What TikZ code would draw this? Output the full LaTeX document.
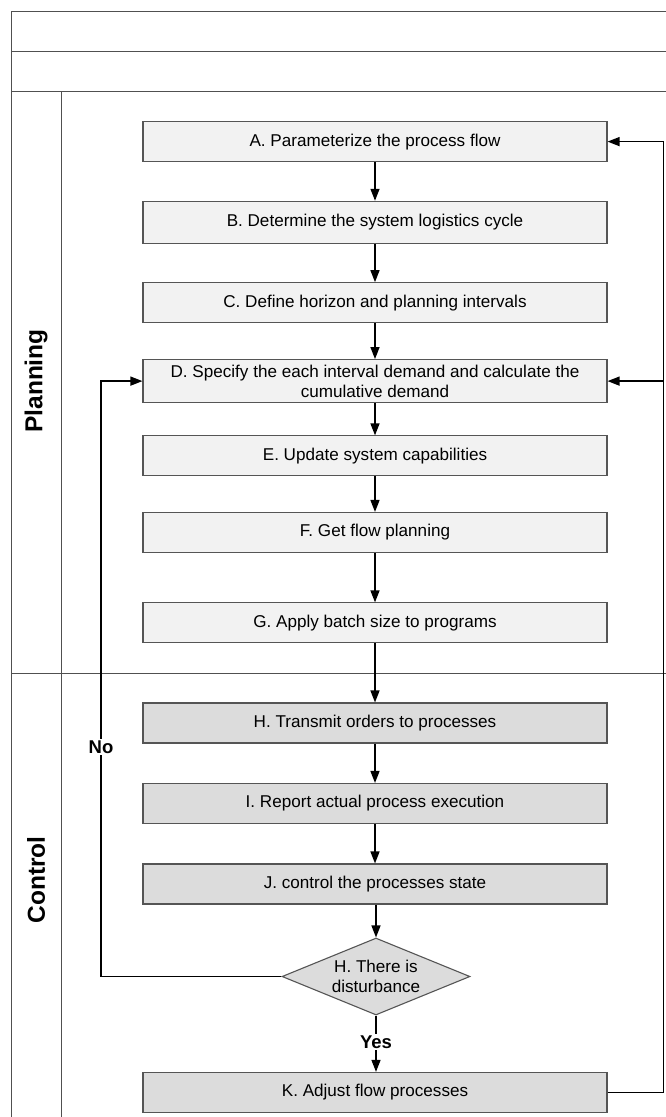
\documentclass[tikz,border=0pt]{standalone}
\usepackage{fontspec}
\setmainfont{Liberation Sans}
\usetikzlibrary{arrows.meta,shapes.geometric}
\definecolor{planfill}{HTML}{F2F2F2}
\definecolor{ctrlfill}{HTML}{DCDCDC}
\definecolor{framecol}{HTML}{505050}
\definecolor{boxline}{HTML}{555555}
\begin{document}
\begin{tikzpicture}[x=1pt,y=-1pt,
  frameline/.style={draw=framecol,line width=1pt},
  stepbox/.style={draw=boxline,line width=1.1pt,fill=#1,minimum width=464pt,align=center,
    inner sep=0pt,font=\fontsize{17.1}{20}\selectfont},
  conn/.style={draw=black,line width=1.4pt},
  arr/.style={conn,-{Triangle[length=12pt,width=9pt]}},
  lanelabel/.style={rotate=90,font=\bfseries\fontsize{24.5}{28}\selectfont},
  branchlabel/.style={fill=white,inner sep=2pt,font=\bfseries\fontsize{18.5}{20}\selectfont}]
\useasboundingbox (0,0) rectangle (666,1117);
\fill[white] (0,0) rectangle (666,1117);
% frame and lanes
\coordinate (ftl) at (11.5,11);
\coordinate (fbl) at (11.5,1117);
\coordinate (ftr) at (666,11);
\coordinate (h1l) at (11.5,51);
\coordinate (h1r) at (666,51);
\coordinate (h2l) at (11.5,91);
\coordinate (h2r) at (666,91);
\coordinate (colt) at (61,91);
\coordinate (colb) at (61,1117);
\coordinate (lanel) at (11.5,673);
\coordinate (laner) at (666,673);
\draw[frameline] (fbl) -- (ftl) -- (ftr);
\draw[frameline] (h1l) -- (h1r);
\draw[frameline] (h2l) -- (h2r);
\draw[frameline] (colt) -- (colb);
\draw[frameline] (lanel) -- (laner);
\node[lanelabel] (plan) at (36,381) {Planning};
\node[lanelabel] (ctrl) at (36,880) {Control};
% steps
\node[stepbox=planfill,minimum height=40pt] (A) at (375,141.6) {A. Parameterize the process flow};
\node[stepbox=planfill,minimum height=42pt] (B) at (375,222.3) {B. Determine the system logistics cycle};
\node[stepbox=planfill,minimum height=40pt] (C) at (375,302.7) {C. Define horizon and planning intervals};
\node[stepbox=planfill,minimum height=43pt] (D) at (375,381.1) {D. Specify the each interval demand and calculate the\\cumulative demand};
\node[stepbox=planfill,minimum height=40pt] (E) at (375,455.9) {E. Update system capabilities};
\node[stepbox=planfill,minimum height=40pt] (F) at (375,532.5) {F. Get flow planning};
\node[stepbox=planfill,minimum height=40pt] (G) at (375,622.9) {G. Apply batch size to programs};
\node[stepbox=ctrlfill,minimum height=40pt] (H) at (375,723) {H. Transmit orders to processes};
\node[stepbox=ctrlfill,minimum height=40pt] (I) at (375,803.5) {I. Report actual process execution};
\node[stepbox=ctrlfill,minimum height=40pt] (J) at (375,884) {J. control the processes state};
\node[diamond,draw=boxline,line width=1.1pt,fill=ctrlfill,minimum width=188pt,minimum height=77pt,inner sep=0pt] (dec) at (376,976.5) {};
\node[align=center,font=\fontsize{17.1}{20}\selectfont] (dectext) at (dec.center) {H. There is\\disturbance};
\node[stepbox=ctrlfill,minimum height=40pt] (K) at (375,1092.4) {K. Adjust flow processes};
% vertical flow
\draw[arr] (A) -- (B);
\draw[arr] (B) -- (C);
\draw[arr] (C) -- (D);
\draw[arr] (D) -- (E);
\draw[arr] (E) -- (F);
\draw[arr] (F) -- (G);
\draw[arr] (G) -- (H);
\draw[arr] (H) -- (I);
\draw[arr] (I) -- (J);
\draw[arr] (J.south -| dec.north) -- (dec.north);
\draw[arr] (dec.south) -- (dec.south |- K.north);
\node[branchlabel] (yes) at (376,1042) {Yes};
% No loop
\coordinate (nob) at (101,976.5);
\coordinate (not) at (101,381.1);
\draw[arr] (dec.west) -- (nob) -- (not) -- (D.west);
\node[branchlabel] (no) at (101,747) {No};
% right loop
\coordinate (rb) at (663.5,1092.4);
\coordinate (rd) at (663.5,381.1);
\coordinate (rt) at (663.5,141.6);
\draw[arr] (K.east) -- (rb) -- (rt) -- (A.east);
\draw[arr] (rd) -- (D.east);
\end{tikzpicture}
\end{document}
